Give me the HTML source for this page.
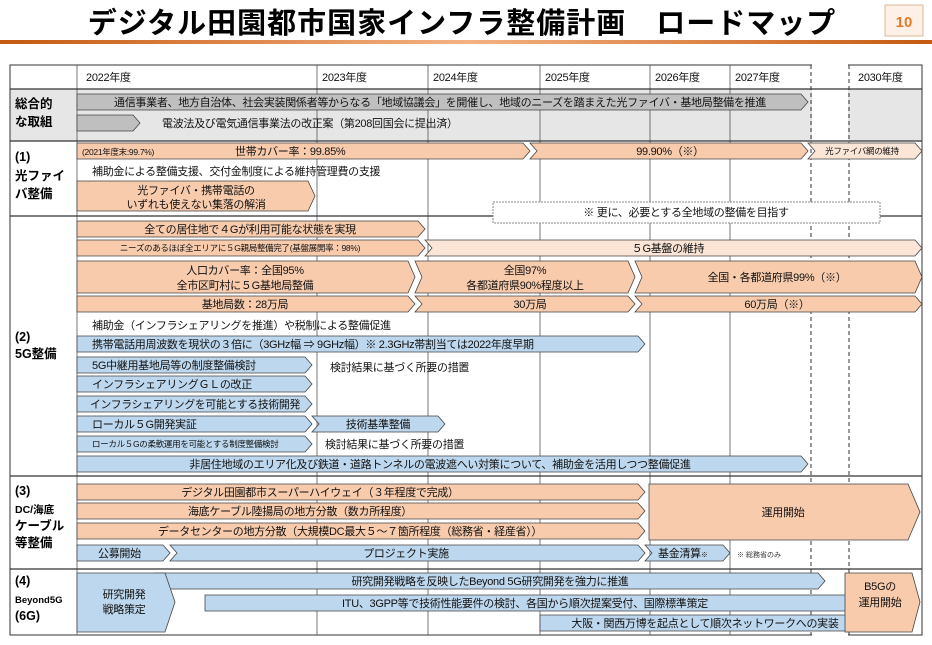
<!DOCTYPE html>
<html><head><meta charset="utf-8"><style>
body{margin:0;background:#fff;}
svg{display:block;font-family:"Liberation Sans","Noto Sans CJK JP",sans-serif;}
.t{font-size:11px;fill:#111;letter-spacing:-0.3px;}
.s{font-size:8.5px;fill:#111;letter-spacing:-0.3px;}
.o{fill:#f8cbad;stroke:#444;stroke-width:0.8;}
.lo{fill:#fbe5d6;stroke:#444;stroke-width:0.8;}
.bl{fill:#bdd7ee;stroke:#444;stroke-width:0.8;}
.g{fill:#bfbfbf;stroke:#444;stroke-width:0.8;}
</style></head><body>
<svg width="932" height="645" viewBox="0 0 932 645">
<defs><linearGradient id="ln" x1="0" x2="1"><stop offset="0" stop-color="#c55a11"/><stop offset="0.5" stop-color="#f4b183"/><stop offset="1" stop-color="#c55a11"/></linearGradient></defs>
<text x="462" y="33" text-anchor="middle" font-size="29" font-weight="bold" fill="#000" letter-spacing="1">デジタル田園都市国家インフラ整備計画　ロードマップ</text>
<rect x="0" y="40" width="932" height="4" fill="url(#ln)"/>
<rect x="885" y="5" width="38" height="31" fill="#fdf0e6" stroke="#d9b89a"/>
<text x="904" y="27" text-anchor="middle" font-size="15" font-weight="bold" fill="#e07b2a">10</text>
<rect x="10" y="89" width="912" height="52" fill="#e7e6e6"/>
<rect x="10" y="65" width="912" height="570" fill="none" stroke="#333" stroke-width="1"/>
<g stroke="#555" stroke-width="0.8">
<line x1="77" y1="65" x2="77" y2="635"/>
<line x1="317" y1="65" x2="317" y2="635"/>
<line x1="428" y1="65" x2="428" y2="635"/>
<line x1="540" y1="65" x2="540" y2="635"/>
<line x1="650" y1="65" x2="650" y2="635"/>
<line x1="730" y1="65" x2="730" y2="635"/>
</g>
<rect x="812" y="60" width="36" height="580" fill="#fff"/>
<g stroke="#333" stroke-width="1" stroke-dasharray="4,3">
<line x1="811" y1="65" x2="811" y2="635"/>
<line x1="849" y1="65" x2="849" y2="635"/>
</g>
<g stroke="#333" stroke-width="1.3">
<line x1="10" y1="89" x2="922" y2="89"/>
<line x1="10" y1="141" x2="922" y2="141"/>
<line x1="10" y1="216" x2="922" y2="216"/>
<line x1="10" y1="476" x2="922" y2="476"/>
<line x1="10" y1="569" x2="922" y2="569"/>
</g>
<g class="t">
<text x="86" y="81">2022年度</text><text x="322" y="81">2023年度</text><text x="433" y="81">2024年度</text>
<text x="545" y="81">2025年度</text><text x="655" y="81">2026年度</text><text x="735" y="81">2027年度</text><text x="858" y="81">2030年度</text>
</g>
<g font-size="12.5" font-weight="bold" fill="#000">
<text x="15" y="108">総合的</text><text x="15" y="126">な取組</text>
<text x="15" y="161">(1)</text><text x="15" y="180">光ファイ</text><text x="15" y="198">バ整備</text>
<text x="15" y="341">(2)</text><text x="15" y="358">5G整備</text>
<text x="15" y="495">(3)</text><text x="15" y="513" font-size="10.5">DC/海底</text><text x="15" y="530">ケーブル</text><text x="15" y="547">等整備</text>
<text x="15" y="585">(4)</text><text x="15" y="603" font-size="9.5">Beyond5G</text><text x="15" y="620">(6G)</text>
</g>
<polygon class="g" points="77,94 801,94 808,102 801,110 77,110"/>
<text class="t" x="440" y="106" text-anchor="middle">通信事業者、地方自治体、社会実装関係者等からなる「地域協議会」を開催し、地域のニーズを踏まえた光ファイバ・基地局整備を推進</text>
<polygon class="g" points="77,115 133,115 140,123 133,131 77,131"/>
<text class="t" x="162" y="127">電波法及び電気通信事業法の改正案（第208回国会に提出済）</text>
<polygon class="o" points="77,143 523,143 530,151 523,159 77,159"/>
<text class="s" x="82" y="155">(2021年度末:99.7%)</text>
<text class="t" x="235" y="155">世帯カバー率：99.85%</text>
<polygon class="o" points="530,143 801,143 808,151 801,159 530,159 537,151"/>
<text class="t" x="670" y="155" text-anchor="middle">99.90%（※）</text>
<polygon class="lo" points="808,143 915,143 922,151 915,159 808,159 815,151"/>
<text class="s" x="862" y="154" text-anchor="middle">光ファイバ網の維持</text>
<text class="t" x="92" y="175">補助金による整備支援、交付金制度による維持管理費の支援</text>
<polygon class="o" points="77,181 308,181 315,196 308,211 77,211"/>
<text class="t" x="196" y="194" text-anchor="middle">光ファイバ・携帯電話の</text>
<text class="t" x="196" y="208" text-anchor="middle">いずれも使えない集落の解消</text>
<rect x="493" y="202" width="387" height="21" fill="#fff" stroke="#888" stroke-dasharray="2,1"/>
<text class="t" x="686" y="216" text-anchor="middle">※ 更に、必要とする全地域の整備を目指す</text>
<polygon class="o" points="77,221 418,221 425,229 418,237 77,237"/>
<text class="t" x="250" y="233" text-anchor="middle">全ての居住地で４Gが利用可能な状態を実現</text>
<polygon class="o" points="77,240 418,240 425,248 418,256 77,256"/>
<text class="s" x="240" y="251" text-anchor="middle">ニーズのあるほぼ全エリアに５G親局整備完了(基盤展開率：98%)</text>
<polygon class="lo" points="425,240 915,240 922,248 915,256 425,256 432,248"/>
<text class="t" x="668" y="252" text-anchor="middle">５G基盤の維持</text>
<polygon class="o" points="77,261 408,261 415,277 408,293 77,293"/>
<text class="t" x="245" y="274" text-anchor="middle">人口カバー率：全国95%</text>
<text class="t" x="245" y="289" text-anchor="middle">全市区町村に５G基地局整備</text>
<polygon class="o" points="415,261 628,261 635,277 628,293 415,293 422,277"/>
<text class="t" x="525" y="274" text-anchor="middle">全国97%</text>
<text class="t" x="525" y="289" text-anchor="middle">各都道府県90%程度以上</text>
<polygon class="o" points="635,261 915,261 922,277 915,293 635,293 642,277"/>
<text class="t" x="777" y="281" text-anchor="middle">全国・各都道府県99%（※）</text>
<polygon class="o" points="77,296 408,296 415,304 408,312 77,312"/>
<text class="t" x="245" y="308" text-anchor="middle">基地局数：28万局</text>
<polygon class="o" points="415,296 628,296 635,304 628,312 415,312 422,304"/>
<text class="t" x="530" y="308" text-anchor="middle">30万局</text>
<polygon class="o" points="635,296 915,296 922,304 915,312 635,312 642,304"/>
<text class="t" x="777" y="308" text-anchor="middle">60万局（※）</text>
<text class="t" x="92" y="329">補助金（インフラシェアリングを推進）や税制による整備促進</text>
<polygon class="bl" points="77,336 638,336 645,344 638,352 77,352"/>
<text class="t" x="92" y="348">携帯電話用周波数を現状の３倍に（3GHz幅 ⇒ 9GHz幅）※ 2.3GHz帯割当ては2022年度早期</text>
<polygon class="bl" points="77,357 305,357 312,365 305,373 77,373"/>
<text class="t" x="92" y="369">5G中継用基地局等の制度整備検討</text>
<text class="t" x="330" y="371">検討結果に基づく所要の措置</text>
<polygon class="bl" points="77,376 305,376 312,384 305,392 77,392"/>
<text class="t" x="92" y="388">インフラシェアリングＧＬの改正</text>
<polygon class="bl" points="77,396 305,396 312,404 305,412 77,412"/>
<text class="t" x="90" y="408" font-size="10.5" textLength="210" lengthAdjust="spacingAndGlyphs">インフラシェアリングを可能とする技術開発</text>
<polygon class="bl" points="77,416 305,416 312,424 305,432 77,432"/>
<text class="t" x="92" y="428">ローカル５G開発実証</text>
<polygon class="bl" points="312,416 438,416 445,424 438,432 312,432 319,424"/>
<text class="t" x="378" y="428" text-anchor="middle">技術基準整備</text>
<polygon class="bl" points="77,436 305,436 312,444 305,452 77,452"/>
<text class="s" x="92" y="447">ローカル５Gの柔軟運用を可能とする制度整備検討</text>
<text class="t" x="325" y="448">検討結果に基づく所要の措置</text>
<polygon class="bl" points="77,456 801,456 808,464 801,472 77,472"/>
<text class="t" x="440" y="468" text-anchor="middle">非居住地域のエリア化及び鉄道・道路トンネルの電波遮へい対策について、補助金を活用しつつ整備促進</text>
<polygon class="o" points="77,484 638,484 645,492 638,500 77,500"/>
<text class="t" x="320" y="496" text-anchor="middle">デジタル田園都市スーパーハイウェイ（３年程度で完成）</text>
<polygon class="o" points="77,503 638,503 645,511 638,519 77,519"/>
<text class="t" x="300" y="515" text-anchor="middle">海底ケーブル陸揚局の地方分散（数カ所程度）</text>
<polygon class="o" points="77,523 638,523 645,531 638,539 77,539"/>
<text class="t" x="350" y="535" text-anchor="middle">データセンターの地方分散（大規模DC最大５～７箇所程度（総務省・経産省））</text>
<polygon class="o" points="649,484 908,484 920,512 908,540 649,540"/>
<text class="t" x="783" y="516" text-anchor="middle">運用開始</text>
<polygon class="bl" points="77,545 163,545 170,553 163,561 77,561"/>
<text class="t" x="98" y="557">公募開始</text>
<polygon class="bl" points="170,545 638,545 645,553 638,561 170,561 177,553"/>
<text class="t" x="406" y="557" text-anchor="middle">プロジェクト実施</text>
<polygon class="bl" points="645,545 723,545 730,553 723,561 645,561 652,553"/>
<text class="t" x="658" y="557">基金清算<tspan font-size="7">※</tspan></text>
<text x="737" y="557" font-size="7" fill="#333">※ 総務省のみ</text>
<polygon class="bl" points="155,573 818,573 825,581 818,589 155,589"/>
<text class="t" x="490" y="585" text-anchor="middle">研究開発戦略を反映したBeyond 5G研究開発を強力に推進</text>
<polygon class="bl" points="205,595 851,595 858,603 851,611 205,611"/>
<text class="t" x="525" y="607" text-anchor="middle">ITU、3GPP等で技術性能要件の検討、各国から順次提案受付、国際標準策定</text>
<polygon class="bl" points="540,615 898,615 905,623 898,631 540,631"/>
<text class="t" x="705" y="627" text-anchor="middle">大阪・関西万博を起点として順次ネットワークへの実装</text>
<polygon class="bl" points="77,573 165,573 175,602 165,632 77,632"/>
<text class="t" x="124" y="598" text-anchor="middle">研究開発</text>
<text class="t" x="124" y="613" text-anchor="middle">戦略策定</text>
<polygon class="o" points="845,573 912,573 920,602 912,632 845,632"/>
<text class="t" x="880" y="590" text-anchor="middle">B5Gの</text>
<text class="t" x="880" y="606" text-anchor="middle">運用開始</text>
</svg>
</body></html>
